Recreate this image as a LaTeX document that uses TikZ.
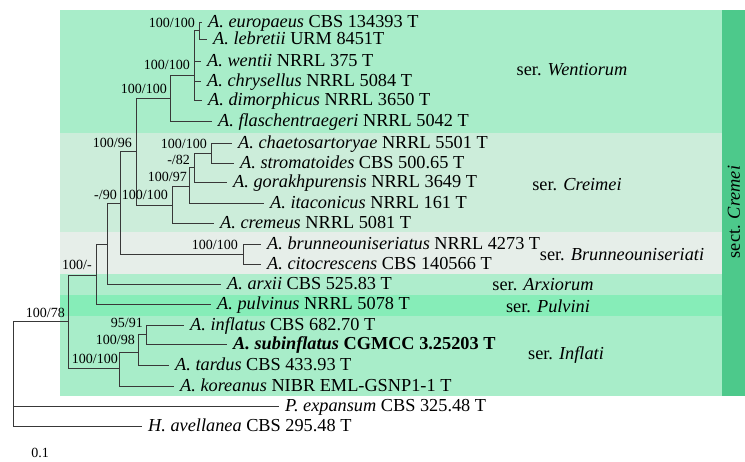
\documentclass[tikz,border=0pt]{standalone}
\usepackage{fontspec}
\setmainfont{Liberation Serif}
\definecolor{cW}{HTML}{A8EDC9}
\definecolor{cC}{HTML}{CCEDDA}
\definecolor{cB}{HTML}{E6EEE9}
\definecolor{cA}{HTML}{AEEDCC}
\definecolor{cP}{HTML}{86EDB8}
\definecolor{cI}{HTML}{A8EDC9}
\definecolor{cS}{HTML}{4DC98B}
\begin{document}
\begin{tikzpicture}[x=1pt,y=-1pt,
  tax/.style={anchor=west, inner xsep=6pt, inner ysep=0pt, text height=12.5pt, text depth=4pt, font=\fontsize{18.3}{21}\selectfont},
  bs/.style={anchor=east, inner sep=0pt, font=\fontsize{14}{16}\selectfont},
  ser/.style={inner sep=0pt, font=\fontsize{18.3}{21}\selectfont},
  br/.style={draw=black!78, line width=1pt},
]
\useasboundingbox (0,0) rectangle (745,462);
% background bands
\fill[cW] (60,10) rectangle (722,133);
\fill[cC] (60,133) rectangle (722,232);
\fill[cB] (60,232) rectangle (722,274);
\fill[cA] (60,274) rectangle (722,295);
\fill[cP] (60,295) rectangle (722,316);
\fill[cI] (60,316) rectangle (722,396);
\fill[cS] (722,10) rectangle (745,396);

% leaves
\node[tax] (eu) at (202,23) {\textit{A. europaeus} CBS 134393 T};
\node[tax] (le) at (207,40) {\textit{A. lebretii} URM 8451T};
\node[tax] (we) at (201,62) {\textit{A. wentii} NRRL 375 T};
\node[tax] (ch) at (201,82) {\textit{A. chrysellus} NRRL 5084 T};
\node[tax] (di) at (202,101) {\textit{A. dimorphicus} NRRL 3650 T};
\node[tax] (fl) at (212,122) {\textit{A. flaschentraegeri} NRRL 5042 T};
\node[tax] (chae) at (232,144) {\textit{A. chaetosartoryae} NRRL 5501 T};
\node[tax] (str) at (234,164) {\textit{A. stromatoides} CBS 500.65 T};
\node[tax] (gor) at (227,183) {\textit{A. gorakhpurensis} NRRL 3649 T};
\node[tax] (ita) at (264,204) {\textit{A. itaconicus} NRRL 161 T};
\node[tax] (cre) at (214,224) {\textit{A. cremeus} NRRL 5081 T};
\node[tax] (bru) at (261,245) {\textit{A. brunneouniseriatus} NRRL 4273 T};
\node[tax] (cit) at (261,265) {\textit{A. citocrescens} CBS 140566 T};
\node[tax] (arx) at (221,285) {\textit{A. arxii} CBS 525.83 T};
\node[tax] (pul) at (211,305) {\textit{A. pulvinus} NRRL 5078 T};
\node[tax] (inf) at (184,326) {\textit{A. inflatus} CBS 682.70 T};
\node[tax] (sub) at (227,345) {\textbf{\textit{A. subinflatus} CGMCC 3.25203 T}};
\node[tax] (tar) at (169,366) {\textit{A. tardus} CBS 433.93 T};
\node[tax] (kor) at (174,387) {\textit{A. koreanus} NIBR EML-GSNP1-1 T};
\node[tax] (exp) at (279,407) {\textit{P. expansum} CBS 325.48 T};
\node[tax] (ave) at (142,427) {\textit{H. avellanea} CBS 295.48 T};

% internal nodes
\coordinate (A) at (199,31);
\coordinate (B) at (194,76);
\coordinate (C) at (170,99);
\coordinate (D) at (211,154);
\coordinate (E) at (194,168);
\coordinate (F) at (189,187);
\coordinate (G) at (172,206);
\coordinate (H) at (136,152);
\coordinate (I) at (243,255);
\coordinate (J) at (120,204);
\coordinate (K) at (107,245);
\coordinate (L) at (96,276);
\coordinate (M) at (146,335);
\coordinate (N) at (138,353);
\coordinate (O) at (119,369);
\coordinate (P) at (68,322);
\coordinate (R) at (13,322);

% branches
\draw[br] (A) |- (eu.west) (A) |- (le.west);
\draw[br] (B) |- (A) (B) |- (we.west) (B) |- (ch.west) (B) |- (di.west);
\draw[br] (C) |- (B) (C) |- (fl.west);
\draw[br] (D) |- (chae.west) (D) |- (str.west);
\draw[br] (E) |- (D) (E) |- (gor.west);
\draw[br] (F) |- (E) (F) |- (ita.west);
\draw[br] (G) |- (F) (G) |- (cre.west);
\draw[br] (H) |- (C) (H) |- (G);
\draw[br] (I) |- (bru.west) (I) |- (cit.west);
\draw[br] (J) |- (H) (J) |- (I);
\draw[br] (K) |- (J) (K) |- (arx.west);
\draw[br] (L) |- (K) (L) |- (pul.west);
\draw[br] (M) |- (inf.west) (M) |- (sub.west);
\draw[br] (N) |- (M) (N) |- (tar.west);
\draw[br] (O) |- (N) (O) |- (kor.west);
\draw[br] (P) |- (L) (P) |- (O);
\draw[br] (R) |- (P) (R) |- (exp.west) (R) |- (ave.west);

% support labels
\node[bs] (lA) at (195,23) {100/100};
\node[bs] (lB) at (190,65) {100/100};
\node[bs] (lC) at (167,89) {100/100};
\node[bs] (lD) at (207,144) {100/100};
\node[bs] (lE) at (190,160) {-/82};
\node[bs] (lF) at (187,177) {100/97};
\node[bs] (lG) at (168,195) {100/100};
\node[bs] (lH) at (132,143) {100/96};
\node[bs] (lI) at (238,245) {100/100};
\node[bs] (lJ) at (117,195) {-/90};
\node[bs] (lL) at (92,265) {100/-};
\node[bs] (lM) at (143,323) {95/91};
\node[bs] (lN) at (135,340) {100/98};
\node[bs] (lO) at (118,359) {100/100};
\node[bs] (lP) at (65,313) {100/78};

% series labels
\node[ser] (sW) at (572,70) {ser. \textit{Wentiorum}};
\node[ser] (sC) at (577,185) {ser. \textit{Creimei}};
\node[ser] (sB) at (622,255) {ser. \textit{Brunneouniseriati}};
\node[ser] (sA) at (543,285) {ser. \textit{Arxiorum}};
\node[ser] (sP) at (548,306) {ser. \textit{Pulvini}};
\node[ser] (sI) at (566,355) {ser. \textit{Inflati}};
\node[ser, rotate=90] (sS) at (734,212) {sect. \textit{Cremei}};

\node[bs, anchor=center] (scale) at (40,453) {0.1};
\end{tikzpicture}
\end{document}
